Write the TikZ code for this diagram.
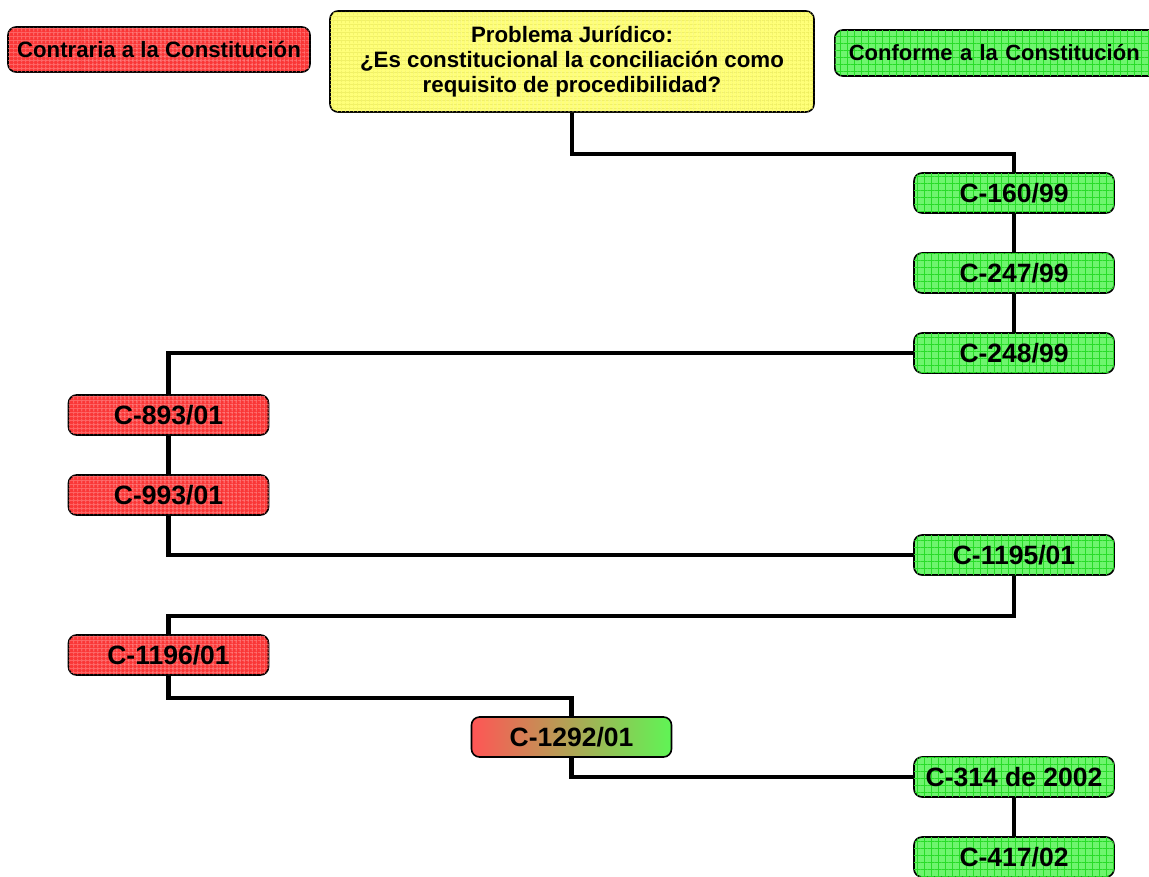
\documentclass[tikz,border=0pt]{standalone}
\usepackage{fontspec}
\setmainfont{Liberation Sans}
\usetikzlibrary{patterns.meta,backgrounds}
\definecolor{rfill}{RGB}{250,55,55}
\definecolor{rgrid}{RGB}{255,120,120}
\definecolor{gfill}{RGB}{110,245,110}
\definecolor{ggrid}{RGB}{40,220,40}
\definecolor{yfill}{RGB}{255,255,120}
\definecolor{ygrid}{RGB}{235,235,90}
\definecolor{gradred}{RGB}{255,85,85}
\definecolor{gradgreen}{RGB}{95,245,85}
\tikzset{
  gridlines/.style={
    postaction={pattern={Lines[angle=0,distance=#1,line width=0.5pt]},pattern color=gridc},
    postaction={pattern={Lines[angle=90,distance=#1,line width=0.5pt]},pattern color=gridc}},
  box/.style={draw=black, line width=1.6pt, rounded corners=8pt, inner sep=0pt,
    font=\bfseries\fontsize{26.5}{28}\selectfont, align=center},
  casebox/.style={box, minimum width=200pt, minimum height=40pt},
  greenbox/.style={casebox, fill=gfill, gridlines=7pt},
  redbox/.style={casebox, fill=rfill, gridlines=4pt},
  conn/.style={line width=4.2pt, line join=miter},
}
\colorlet{gridc}{ggrid}
\begin{document}
\begin{tikzpicture}[x=1pt,y=-1pt]
\useasboundingbox (0,0) rectangle (1149,876);
% legend
\colorlet{gridc}{rgrid}
\node[box, fill=rfill, gridlines=4pt, minimum width=302pt, minimum height=45pt,
  font=\bfseries\fontsize{22.2}{24}\selectfont] (contra) at (159,49.5) {Contraria a la Constitución};
\colorlet{gridc}{ygrid}
\node[box, fill=yfill, gridlines=4pt, minimum width=484pt, minimum height=101pt,
  font=\bfseries\fontsize{22.3}{25}\selectfont] (prob) at (572,61.5)
  {Problema Jurídico:\\¿Es constitucional la conciliación como\\requisito de procedibilidad?};
\colorlet{gridc}{ggrid}
\node[box, fill=gfill, gridlines=7pt, minimum width=330pt, minimum height=46pt, anchor=west,
  font=\bfseries\fontsize{22}{24}\selectfont, text width=316pt, align=left] (conf) at (834,53)
  {\hspace*{7pt}Conforme a la Constitución};
% cases
\node[greenbox] (c160) at (1014,193) {C-160/99};
\node[greenbox] (c247) at (1014,273) {C-247/99};
\node[greenbox] (c248) at (1014,353) {C-248/99};
\colorlet{gridc}{rgrid}
\node[redbox] (c893) at (168.5,415) {C-893/01};
\node[redbox] (c993) at (168.5,495) {C-993/01};
\colorlet{gridc}{ggrid}
\node[greenbox] (c1195) at (1014,555) {C-1195/01};
\colorlet{gridc}{rgrid}
\node[redbox] (c1196) at (168.5,655) {C-1196/01};
\node[casebox, left color=gradred, right color=gradgreen, shading angle=90] (c1292) at (571.5,737) {C-1292/01};
\colorlet{gridc}{ggrid}
\node[greenbox] (c314) at (1014,777) {C-314 de 2002};
\node[greenbox] (c417) at (1014,857) {C-417/02};
% connectors
\begin{scope}[on background layer]
\draw[conn] (prob.south) -- ++(0,41) -| (c160.north);
\draw[conn] (c160.south) -- (c247.north);
\draw[conn] (c247.south) -- (c248.north);
\draw[conn] (c248.west) -| (c893.north);
\draw[conn] (c893.south) -- (c993.north);
\draw[conn] (c993.south) |- (c1195.west);
\draw[conn] (c1195.south) -- ++(0,40) -| (c1196.north);
\draw[conn] (c1196.south) -- ++(0,22) -| (c1292.north);
\draw[conn] (c1292.south) |- (c314.west);
\draw[conn] (c314.south) -- (c417.north);
\end{scope}
\end{tikzpicture}
\end{document}
